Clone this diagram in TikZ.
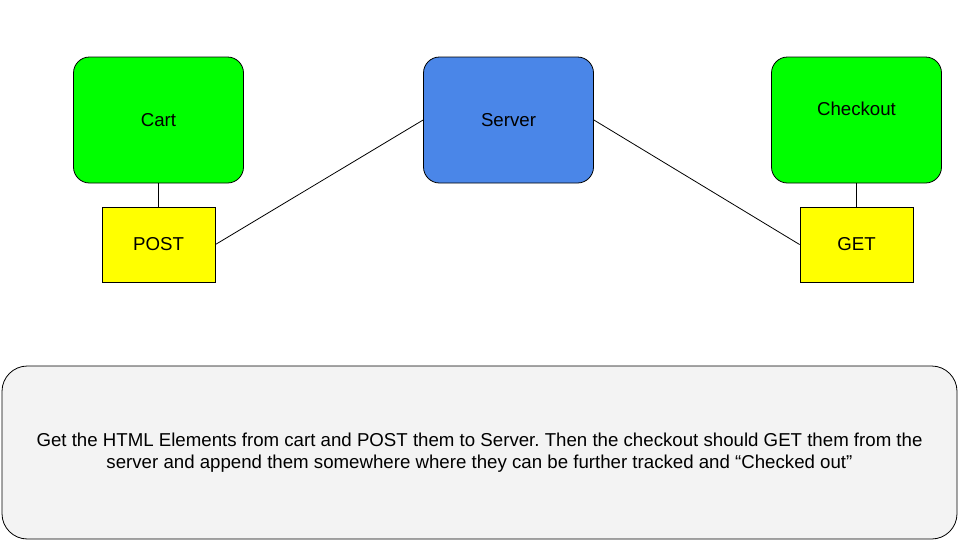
\documentclass[tikz,border=0pt]{standalone}
\usepackage{fontspec}
\setmainfont{Liberation Sans}
\usetikzlibrary{positioning}
\definecolor{pagegreen}{HTML}{00FF00}
\definecolor{serverblue}{HTML}{4A86E8}
\definecolor{methodyellow}{HTML}{FFFF00}
\definecolor{notegray}{HTML}{F3F3F3}
\frenchspacing
\begin{document}
\begin{tikzpicture}[x=0.75pt,y=-0.75pt,node distance=262.5pt,line width=0.6pt,
  every node/.style={font=\fontsize{14}{17}\selectfont}]
\tikzstyle{page}=[draw,rounded corners=12pt,fill=pagegreen,minimum width=127.5pt,minimum height=94.5pt]
\tikzstyle{method}=[draw,fill=methodyellow,minimum width=84.75pt,minimum height=56.25pt]
\tikzstyle{note}=[draw,rounded corners=19pt,fill=notegray,minimum width=716.25pt,minimum height=129.75pt,align=center]
\useasboundingbox (0,0) rectangle (960,540);
\node [page] (cart) at (158.5,120) {Cart};
\node [page,fill=serverblue,right of=cart] (server) {Server};
\node [page,right of=server,xshift=-1.5pt,text depth=16.5pt] (checkout) {Checkout};
\node [method,below of=cart,node distance=93.4pt] (post) {POST};
\node [method,below of=checkout,node distance=93.4pt] (get) {GET};
\node [note] (note) at (479.5,452.5) {Get the HTML Elements from cart and POST them to Server. Then the checkout should GET them from the\\server and append them somewhere where they can be further tracked and “Checked out”};
\path
    (cart) edge (post)
    (post.east) edge (server.west)
    (server.east) edge (get.west)
    (checkout) edge (get);
\end{tikzpicture}
\end{document}
